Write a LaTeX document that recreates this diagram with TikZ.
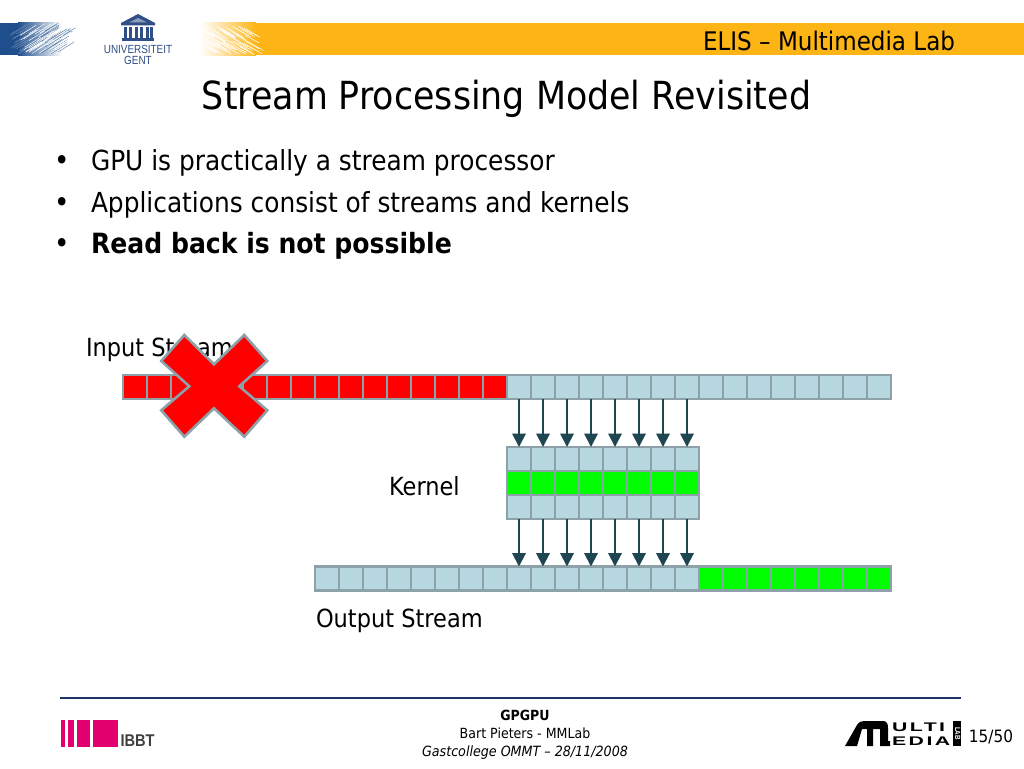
\documentclass[tikz,border=0pt]{standalone}
\usepackage{fontspec}
\setmainfont{DejaVu Sans}[FakeStretch=0.9]
\newfontfamily\logofont[FakeStretch=0.84]{Liberation Sans}
\newfontfamily\ibbtfont[FakeStretch=0.86]{Liberation Sans}
\newfontfamily\widefont[FakeStretch=1.7,LetterSpace=20]{Liberation Sans}
\usetikzlibrary{arrows.meta}
\definecolor{cellline}{HTML}{8CA1A8}
\definecolor{cellblue}{HTML}{B7D8E0}
\definecolor{arrowcol}{HTML}{1D4650}
\definecolor{barcol}{HTML}{FDB515}
\definecolor{ugent}{HTML}{1F4E8C}
\definecolor{ugtext}{HTML}{2F4F86}
\definecolor{navy}{HTML}{1E3366}
\definecolor{pinkc}{HTML}{E2006F}
\newcommand{\fsz}[1]{\fontsize{#1}{#1}\selectfont}
\tikzset{
 x=1pt,y=-1pt,
 cellbase/.style={draw=cellline,line width=2.5pt,minimum width=24pt,minimum height=24pt,inner sep=0pt,outer sep=0pt,anchor=north west},
 bluecell/.style={cellbase,fill=cellblue},
 redcell/.style={cellbase,fill=red},
 greencell/.style={cellbase,fill=green},
 txt/.style={inner sep=0pt,outer sep=0pt,anchor=base west},
 ctxt/.style={inner sep=0pt,outer sep=0pt,anchor=base},
 flow/.style={arrowcol,line width=2pt,-{Triangle[length=13.5pt,width=13.5pt]}},
}
\begin{document}
\begin{tikzpicture}
\useasboundingbox (0,0) rectangle (1024,768);
\fill[white] (0,0) rectangle (1024,768);
% header bands
\fill[barcol] (255,23) rectangle (1024,55.5);
\shade[left color=white,right color=barcol,shading angle=90] (200,23) rectangle (256,55.5);
\pgfmathsetseed{7}
\foreach \k in {1,...,60}{
 \pgfmathsetmacro{\xa}{200+rnd*50}
 \pgfmathsetmacro{\ya}{25+rnd*22}
 \draw[white,line width=0.5pt] (\xa,\ya) -- ++(14,8);
}
\fill[ugent] (0,23) rectangle (18,55.5);
\shade[left color=ugent,right color=white,shading angle=90] (18,23) rectangle (62,55.5);
\foreach \k in {1,...,70}{
 \pgfmathsetmacro{\xa}{10+rnd*50}
 \pgfmathsetmacro{\ya}{33+rnd*21}
 \draw[ugent!70,line width=0.45pt] (\xa,\ya) -- ++(16,-10);
}
\foreach \k in {1,...,40}{
 \pgfmathsetmacro{\xa}{18+rnd*40}
 \pgfmathsetmacro{\ya}{33+rnd*21}
 \draw[white,line width=0.5pt] (\xa,\ya) -- ++(16,-10);
}
% university logo
\fill[ugtext] (138,14) -- (155,23) -- (155,25.5) -- (121,25.5) -- (121,23) -- cycle;
\fill[ugtext!55] (129,22.5) -- (138,18) -- (147,22.5) -- cycle;
\foreach \xx in {123.5,129,134.5,140,145.5,150}{ \fill[ugtext] (\xx,27) rectangle ++(3.2,11); }
\fill[ugtext] (122,38) rectangle (154,41);
\node[ctxt,text=ugtext] (ugone) at (138,53.5) {\logofont\fsz{11.8}UNIVERSITEIT};
\node[ctxt,text=ugtext] (ugtwo) at (138,64) {\logofont\fsz{11.8}GENT};
% titles
\node[inner sep=0pt,outer sep=0pt,anchor=base east] (elis) at (955,51) {\fsz{25.6}ELIS – Multimedia Lab};
\node[ctxt] (title) at (506.5,109) {\fsz{38.7}Stream Processing Model Revisited};
\node[txt] (ba) at (54,170.5) {\fsz{29}•};
\node[txt] (bb) at (54,212.5) {\fsz{29}•};
\node[txt] (bc) at (54,253.5) {\fsz{29}•};
\node[txt] (la) at (91,170) {\fsz{27.6}GPU is practically a stream processor};
\node[txt] (lb) at (91,212) {\fsz{27.6}Applications consist of streams and kernels};
\node[txt] (lc) at (91,253) {\fsz{27.9}\bfseries Read back is not possible};
% labels
\node[txt] (inlab) at (86,356) {\fsz{25}Input Stream};
\node[txt] (kerlab) at (389,495) {\fsz{25}Kernel};
\node[txt] (outlab) at (316,627) {\fsz{25}Output Stream};
% input stream
\foreach \i in {0,...,31}{
 \pgfmathtruncatemacro{\isred}{\i<16}
 \ifnum\isred=1 \node[redcell] (in\i) at ({123+24*\i},375) {};
 \else \node[bluecell] (in\i) at ({123+24*\i},375) {}; \fi
}
% kernel
\foreach \i in {0,...,7}{
 \node[bluecell] (kt\i) at ({507+24*\i},447) {};
 \node[bluecell] (kb\i) at ({507+24*\i},495) {};
}
\foreach \i in {0,...,7}{
 \node[greencell] (km\i) at ({507+24*\i},471) {};
}
% output stream
\foreach \i in {0,...,23}{
 \pgfmathtruncatemacro{\isg}{\i>15}
 \ifnum\isg=1 \node[greencell] (out\i) at ({315+24*\i},566.5) {};
 \else \node[bluecell] (out\i) at ({315+24*\i},566.5) {}; \fi
}
% arrows
\foreach \i in {0,...,7}{
 \pgfmathtruncatemacro{\s}{\i+16}
 \pgfmathtruncatemacro{\o}{\i+8}
 \draw[flow] (in\s.south) -- (kt\i.north);
 \draw[flow] (kb\i.south) -- (out\o.north);
}
% red cross
\draw[fill=red,draw=cellline,line width=2.6pt,line join=miter] (184.3,335) -- (214,364.3) -- (244.3,335) -- (267.3,361) -- (239.3,386.3) -- (267.3,410.3) -- (244.3,436.7) -- (214,408.3) -- (184.3,436.7) -- (161.3,410.3) -- (189.3,386.3) -- (161.3,361) -- cycle;
% footer
\draw[navy,line width=2pt] (60,698) -- (961,698);
\node[ctxt] (fa) at (525,720) {\fsz{14}\bfseries GPGPU};
\node[ctxt] (fb) at (525,738) {\fsz{14}Bart Pieters - MMLab};
\node[ctxt] (fc) at (525,756) {\fsz{14.1}\itshape Gastcollege OMMT – 28/11/2008};
\node[inner sep=0pt,outer sep=0pt,anchor=base east] (pg) at (1013,742) {\fsz{17}15/50};
% IBBT logo
\fill[pinkc] (60.5,720) rectangle (65,746.5);
\fill[pinkc] (68,720) rectangle (74,746.5);
\fill[pinkc] (77,720) rectangle (90,746.5);
\fill[pinkc] (93,720) rectangle (118,746.5);
\node[txt,text=black!75] (ibbt) at (120.5,746.5) {\ibbtfont\fsz{17}\bfseries IBBT};
% multimedia logo
\fill[black] (845,746) -- (857,725) .. controls (859,722) and (861,721) .. (864,721) -- (883,721) .. controls (887,721) and (888,724) .. (888,728) -- (888,741) -- (890,741) -- (890,746) -- (880,746) -- (880,729) -- (873,729) -- (873,746) -- (867,746) -- (867,729) -- (862,729) -- (857,746) -- cycle;
\node[txt] (ulti) at (892,731) {\widefont\bfseries\fsz{12.5}ULTI};
\node[txt] (edia) at (892,745.5) {\widefont\bfseries\fsz{12.5}EDIA};
\fill[black] (953,721) rectangle (961,746);
\node[ctxt,text=white,rotate=-90] (lab) at (955,733.5) {\logofont\bfseries\fsz{7.5}LAB};
\end{tikzpicture}
\end{document}
